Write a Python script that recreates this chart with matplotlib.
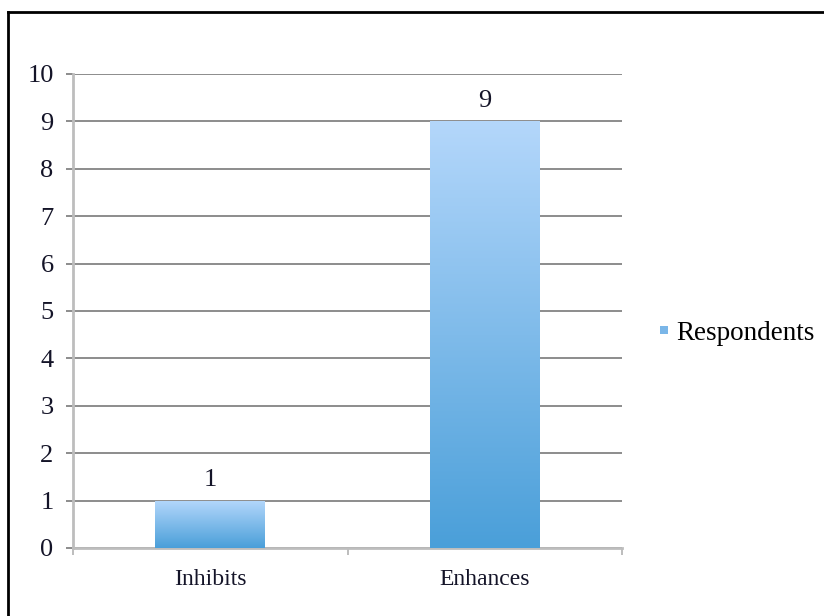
import numpy as np
import matplotlib.pyplot as plt
from matplotlib.lines import Line2D
from matplotlib.patches import Patch

# Data
categories = ['Inhibits', 'Enhances']
respondents = [1, 9]
series_name = 'Respondents'

plt.rcParams['font.family'] = ['Liberation Serif', 'DejaVu Serif']

fig = plt.figure(figsize=(8.24, 6.16), dpi=100)
ax = fig.add_axes([0.0886, 0.1104, 0.6663, 0.7695])

x = np.arange(len(categories))
bars = ax.bar(x, respondents, width=0.4, color='#8cc0ee', zorder=2)

# Vertical gradient on each bar (light top, darker bottom)
grad = np.linspace(0, 1, 256).reshape(-1, 1)
cmap = plt.matplotlib.colors.LinearSegmentedColormap.from_list('bluegrad', ['#4a9fd9', '#b4d7fb'])
for b in bars:
    bx, by = b.get_x(), b.get_y()
    w, h = b.get_width(), b.get_height()
    im = ax.imshow(grad, extent=[bx, bx + w, by, by + h], origin='lower',
                   cmap=cmap, aspect='auto', zorder=3)
    im.set_clip_path(b)
    ax.text(bx + w / 2, by + h + 0.2, str(h if h % 1 else int(h)),
            ha='center', va='bottom', fontsize=19, color='#141428')

ax.set_xlim(-0.5, 1.5)
ax.set_ylim(0, 10)
ax.set_yticks(range(0, 11))
ax.set_xticks(x)
ax.set_xticklabels(categories)
ax.set_xticks([-0.5, 0.5, 1.5], minor=True)

ax.grid(axis='y', color='#8c8c8c', linewidth=1.4, zorder=1)
ax.set_axisbelow(True)
for s in ['top', 'right']:
    ax.spines[s].set_visible(False)
for s in ['left', 'bottom']:
    ax.spines[s].set_color('#bdbdbd')
    ax.spines[s].set_linewidth(2)

ax.tick_params(axis='y', length=5, width=1.4, color='#8c8c8c', pad=9,
               labelsize=19, labelcolor='#141428')
ax.tick_params(axis='x', which='major', length=0, pad=15,
               labelsize=17, labelcolor='#141428')
ax.tick_params(axis='x', which='minor', length=5, width=1.4, color='#bdbdbd')

# Legend
handle = Patch(facecolor='#7ab6e8', edgecolor='none')
fig.legend([handle], [series_name], loc='center left',
           bbox_to_anchor=(0.771, 0.459), frameon=False, fontsize=19.5,
           handlelength=0.3, handleheight=0.08, handletextpad=0.3)

# Outer border (top and left edges)
fig.add_artist(Line2D([8 / 824, 1], [1 - 12 / 616, 1 - 12 / 616],
                      transform=fig.transFigure, color='black', linewidth=2))
fig.add_artist(Line2D([8 / 824, 8 / 824], [0, 1 - 12 / 616],
                      transform=fig.transFigure, color='black', linewidth=2))

fig.savefig('out.png', dpi=100)
